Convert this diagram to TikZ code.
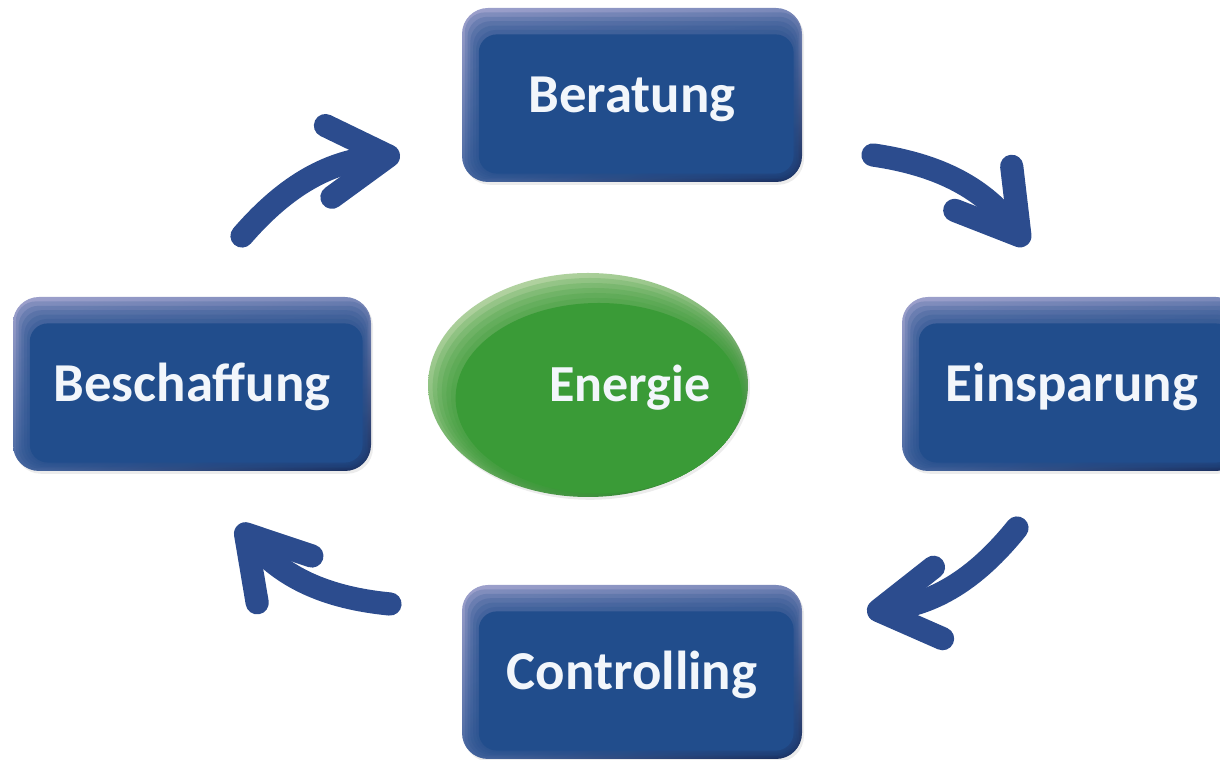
\documentclass[tikz,border=0pt]{standalone}
\usepackage{fontspec}
\setmainfont{Carlito}
\usetikzlibrary{arrows.meta, shapes.geometric, shadows, shadings}

\definecolor{boxblue}{HTML}{214D8C}
\definecolor{rimlight}{HTML}{9EA1CC}
\definecolor{rimdark}{HTML}{172C5C}
\definecolor{cycblue}{HTML}{2C4C8E}
\definecolor{egreen}{HTML}{3A9B37}
\definecolor{eglight}{HTML}{C6DCB2}
\definecolor{egdark}{HTML}{27732A}
\definecolor{txtwhite}{HTML}{F2F6FB}

\begin{document}
\begin{tikzpicture}[
    stage/.style={rectangle, rounded corners=0.65cm, minimum width=8.5cm, minimum height=4.35cm,
      inner sep=0pt, text=txtwhite, font=\bfseries\fontsize{39}{44}\selectfont,
      text height=25pt, text depth=0pt,
      drop shadow={opacity=0.15, shadow xshift=0.05cm, shadow yshift=-0.07cm},
      path picture={
        \shade[upper left=rimlight, upper right=rimlight!70!boxblue, lower left=boxblue!70!rimlight, lower right=rimdark]
          (path picture bounding box.south west) rectangle (path picture bounding box.north east);
        \foreach \k in {1,...,5}
          \fill[boxblue, opacity=0.2, rounded corners=0.5cm]
            ([shift={(0.07*\k,0.035*\k)}]path picture bounding box.south west)
            rectangle ([shift={(-0.035*\k,-0.11*\k)}]path picture bounding box.north east);
        \fill[boxblue, rounded corners=0.45cm]
          ([shift={(0.42,0.21)}]path picture bounding box.south west)
          rectangle ([shift={(-0.21,-0.66)}]path picture bounding box.north east);
      }},
    core/.style={ellipse, minimum width=8cm, minimum height=5.6cm, inner sep=0pt,
      drop shadow={opacity=0.15, shadow xshift=0.05cm, shadow yshift=-0.07cm},
      path picture={
        \shade[upper left=eglight, upper right=eglight!60!egreen, lower left=egreen!75!eglight, lower right=egdark]
          (path picture bounding box.south west) rectangle (path picture bounding box.north east);
        \foreach \k in {1,...,5}
          \fill[egreen, opacity=0.2]
            ([shift={(0.045*\k,-0.055*\k)}]path picture bounding box.center)
            ellipse [x radius=4cm-0.07cm*\k, y radius=2.8cm-0.07cm*\k];
        \fill[egreen] ([shift={(0.27,-0.33)}]path picture bounding box.center)
          ellipse [x radius=3.58cm, y radius=2.38cm];
      }},
    corelabel/.style={text=txtwhite, font=\bfseries\fontsize{37}{42}\selectfont, text height=24pt, text depth=0pt},
    cyc/.style={draw=cycblue, line width=0.58cm, line cap=round,
      -{Straight Barb[round, length=1.5cm, width=1.8cm]}},
]
  \useasboundingbox (0,0) rectangle (30.5,19);
  \clip (0,0) rectangle (30.5,19);

  % the four stages
  \node[stage] (berat) at (15.8,16.625) {Beratung};
  \node[stage] (einsp) at (26.8,9.4) {Einsparung};
  \node[stage] (contr) at (15.8,2.2) {Controlling};
  \node[stage, minimum width=8.95cm] (besch) at (4.8,9.4) {Beschaffung};

  % centre
  \node[core] (energie) at (14.7,9.375) {};
  \node[corelabel] (energie-txt) at ([xshift=1.05cm]energie.center) {Energie};

  % cycle arrows
  \coordinate (a1s) at (6.05,13.1);   \coordinate (a1e) at (10.0,15.125);
  \coordinate (a2s) at (21.825,15.125); \coordinate (a2e) at (25.675,12.875);
  \coordinate (a3s) at (25.425,5.8);  \coordinate (a3e) at (21.675,3.7);
  \coordinate (a4s) at (9.75,3.9);    \coordinate (a4e) at (5.95,5.875);
  \draw[cyc] (a1s) to[bend left=22] (a1e);
  \draw[cyc] (a2s) to[bend left=22] (a2e);
  \draw[cyc] (a3s) to[bend left=22] (a3e);
  \draw[cyc] (a4s) to[bend left=22] (a4e);
\end{tikzpicture}
\end{document}
